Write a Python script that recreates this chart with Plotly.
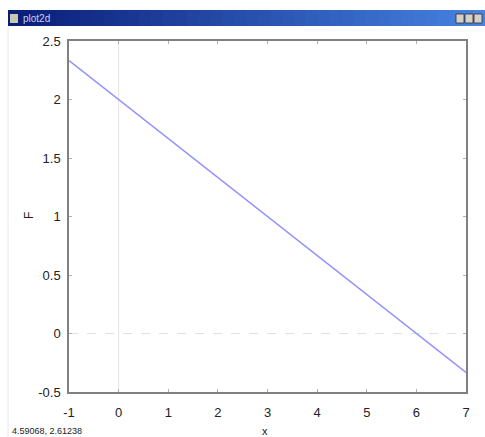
import numpy as np
import plotly.graph_objects as go

# Data: F = 2 - x/3
x_vals = [-1, 0, 1, 2, 3, 4, 5, 6, 7]
f_vals = [2.3333, 2.0, 1.6667, 1.3333, 1.0, 0.6667, 0.3333, 0.0, -0.3333]
x_ticks = [-1, 0, 1, 2, 3, 4, 5, 6, 7]
y_ticks = [-0.5, 0, 0.5, 1, 1.5, 2, 2.5]
y_tick_text = ["-0.5", "0", "0.5", "1", "1.5", "2", "2.5"]
window_title = "plot2d"
coord_text = "4.59068, 2.61238"

W, H = 485, 437
L, R, T, B = 69, 19, 41, 45
pw, ph = W - L - R, H - T - B

def px(xp):
    return (xp - L) / pw

def py(yp):
    return (H - B - yp) / ph

fig = go.Figure()
fig.add_trace(go.Scatter(x=x_vals, y=f_vals, mode="lines",
                         line=dict(color="#9090ff", width=1.5),
                         hoverinfo="skip", showlegend=False))

shapes = []
# zero lines
shapes.append(dict(type="line", xref="x", yref="paper", x0=0, x1=0, y0=0, y1=1,
                   line=dict(color="#e4e4e4", width=1), layer="below"))
shapes.append(dict(type="line", xref="paper", yref="y", x0=0, x1=1, y0=0, y1=0,
                   line=dict(color="#e0e0e0", width=1, dash="dash"), layer="below"))

# title bar gradient
x_start, x_end = 8, 485
n = 40
c0 = np.array([10, 30, 120])
c1 = np.array([70, 130, 225])
for i in range(n):
    a = x_start + (x_end - x_start) * i / n
    b = x_start + (x_end - x_start) * (i + 1) / n
    c = c0 + (c1 - c0) * i / (n - 1)
    shapes.append(dict(type="rect", xref="paper", yref="paper",
                       x0=px(a), x1=px(b) + 0.002, y0=py(26), y1=py(10),
                       fillcolor="rgb(%d,%d,%d)" % tuple(c.astype(int)),
                       line=dict(width=0), layer="above"))
# small icon and buttons
shapes.append(dict(type="rect", xref="paper", yref="paper", x0=px(10), x1=px(18),
                   y0=py(23), y1=py(14), fillcolor="#c8c8b0", line=dict(width=0)))
for bx in [456, 465, 474]:
    shapes.append(dict(type="rect", xref="paper", yref="paper", x0=px(bx), x1=px(bx + 8),
                       y0=py(23), y1=py(14), fillcolor="#d4d0c8",
                       line=dict(color="#303030", width=0.8)))
# window left border
shapes.append(dict(type="line", xref="paper", yref="paper", x0=px(8), x1=px(8),
                   y0=py(26), y1=py(437), line=dict(color="#e8e8e8", width=1)))

annotations = [
    dict(text=window_title, xref="paper", yref="paper", x=px(21), y=py(18),
         xanchor="left", yanchor="middle", showarrow=False,
         font=dict(family="Liberation Sans, Arial", size=10, color="#c8d0f0")),
    dict(text=coord_text, xref="paper", yref="paper", x=px(10), y=py(431),
         xanchor="left", yanchor="middle", showarrow=False,
         font=dict(family="Liberation Sans, Arial", size=9, color="#222222")),
    dict(text="x", xref="paper", yref="paper", x=px(265), y=py(431),
         xanchor="center", yanchor="middle", showarrow=False,
         font=dict(family="Liberation Sans, Arial", size=11, color="#222222")),
    dict(text="F", xref="paper", yref="paper", x=px(29), y=py(216),
         xanchor="center", yanchor="middle", showarrow=False, textangle=-90,
         font=dict(family="Liberation Sans, Arial", size=12, color="#222222")),
]

fig.update_layout(
    width=W, height=H,
    margin=dict(l=L, r=R, t=T, b=B, autoexpand=False),
    paper_bgcolor="white", plot_bgcolor="white",
    shapes=shapes, annotations=annotations,
    font=dict(family="Liberation Sans, Arial", size=13, color="#222222"),
    xaxis=dict(range=[-1, 7], tickvals=x_ticks, ticktext=[str(v) for v in x_ticks],
               showgrid=False, zeroline=False, showline=True, linecolor="#808080",
               linewidth=1.5, mirror="allticks", ticks="inside", ticklen=3,
               tickcolor="#b0b0b0", ticklabelstandoff=8, automargin=False),
    yaxis=dict(range=[-0.5, 2.5], tickvals=y_ticks, ticktext=y_tick_text,
               showgrid=False, zeroline=False, showline=True, linecolor="#808080",
               linewidth=1.5, mirror="allticks", ticks="inside", ticklen=3,
               tickcolor="#b0b0b0", ticklabelstandoff=4, automargin=False),
)

fig.write_html("out.html", config={"displayModeBar": False},
               post_script="document.body.style.margin='0';document.body.style.overflow='hidden';")
